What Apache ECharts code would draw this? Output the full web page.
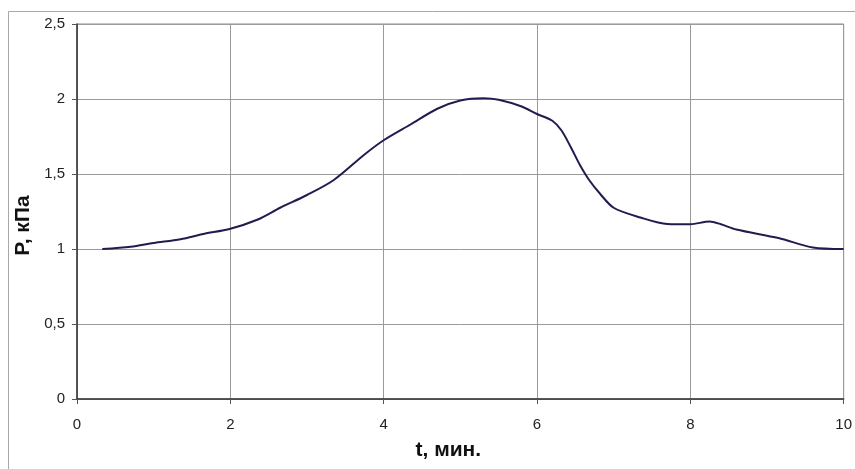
<!DOCTYPE html>
<html>
<head>
<meta charset="utf-8">
<script src="https://cdn.jsdelivr.net/npm/echarts@6/dist/echarts.min.js"></script>
<style>
  html, body { margin: 0; padding: 0; background: #fff; }
  #chart { width: 855px; height: 469px; }
</style>
</head>
<body>
<div id="chart"></div>
<script>
// время, мин и давление, кПа
const tMin = [0.33, 0.7, 1.0, 1.35, 1.65, 2.0, 2.35, 2.65, 3.0, 3.35, 3.75, 4.0, 4.35, 4.7, 5.0, 5.3, 5.5, 5.8, 6.0, 6.2, 6.32, 6.45, 6.56, 6.68, 6.82, 7.0, 7.35, 7.7, 8.0, 8.25, 8.4, 8.6, 9.15, 9.6, 10.0];
const pKPa = [1.0, 1.015, 1.04, 1.065, 1.1, 1.135, 1.195, 1.275, 1.36, 1.46, 1.63, 1.725, 1.83, 1.935, 1.99, 2.005, 1.995, 1.95, 1.9, 1.855, 1.79, 1.67, 1.56, 1.46, 1.37, 1.275, 1.21, 1.167, 1.165, 1.183, 1.165, 1.13, 1.073, 1.01, 1.0];

const FONT = 'Liberation Sans, Arial, sans-serif';
const comma = v => String(v).replace('.', ',');

const chart = echarts.init(document.getElementById('chart'));

chart.setOption({
  animation: false,
  backgroundColor: '#fff',
  graphic: [{
    type: 'rect',
    silent: true,
    shape: { x: 8.5, y: 11.5, width: 900, height: 500 },
    style: { fill: 'none', stroke: '#a8a8a8', lineWidth: 1 }
  }],
  grid: { left: 77, right: 11, top: 24, bottom: 70, show: true, borderColor: '#8a8a8a', borderWidth: 1 },
  xAxis: {
    type: 'value',
    min: 0, max: 10, interval: 2,
    name: 't, мин.',
    nameLocation: 'middle',
    nameGap: 41,
    nameTextStyle: { fontFamily: FONT, fontSize: 21, fontWeight: 'bold', color: '#111', padding: [0, 24, 0, 0] },
    axisLine: { lineStyle: { color: '#333', width: 1.5 } },
    axisTick: { length: 5, lineStyle: { color: '#555' } },
    axisLabel: { fontFamily: FONT, fontSize: 15, color: '#222', margin: 18, formatter: comma },
    splitLine: { lineStyle: { color: '#9a9a9a', width: 1 } }
  },
  yAxis: {
    type: 'value',
    min: 0, max: 2.5, interval: 0.5,
    name: 'P, кПа',
    nameLocation: 'middle',
    nameGap: 35,
    nameRotate: 90,
    nameTextStyle: { fontFamily: FONT, fontSize: 21, fontWeight: 'bold', color: '#111', padding: [0, 28, 0, 0] },
    axisLine: { show: true, lineStyle: { color: '#333', width: 1.5 } },
    axisTick: { show: true, length: 5, lineStyle: { color: '#555' } },
    axisLabel: { fontFamily: FONT, fontSize: 15, color: '#222', margin: 12, formatter: comma },
    splitLine: { lineStyle: { color: '#9a9a9a', width: 1 } }
  },
  series: [{
    type: 'line',
    data: tMin.map((t, i) => [t, pKPa[i]]),
    smooth: 0.3,
    symbol: 'none',
    lineStyle: { color: '#1f1d4f', width: 2 }
  }]
});
</script>
</body>
</html>
